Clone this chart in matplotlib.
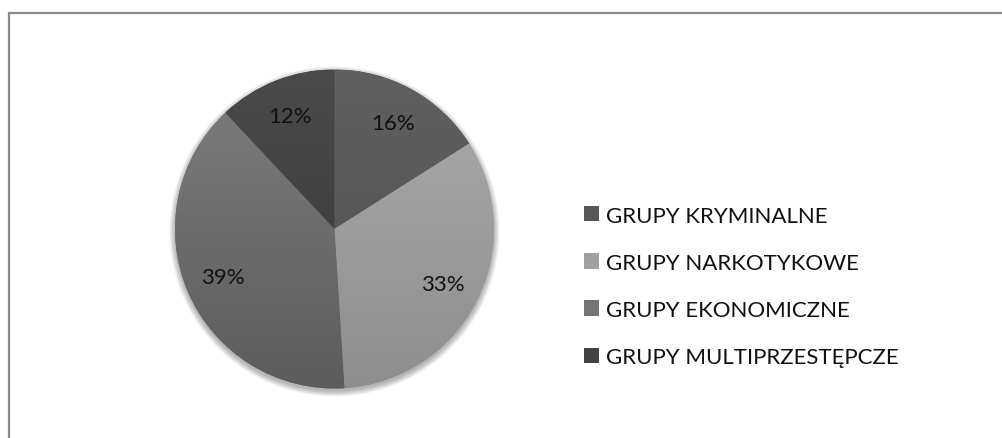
import numpy as np
import matplotlib
matplotlib.use("Agg")
import matplotlib.pyplot as plt
from matplotlib.patches import Rectangle, Circle, Patch
from matplotlib.colors import LinearSegmentedColormap

# ---- data ----
categories = ["GRUPY KRYMINALNE", "GRUPY NARKOTYKOWE",
              "GRUPY EKONOMICZNE", "GRUPY MULTIPRZESTĘPCZE"]
values = [16, 33, 39, 12]
pct_labels = ["16%", "33%", "39%", "12%"]

# gradient colours (top, bottom) per slice, and solid legend colours
grad_top = ["#606060", "#ababab", "#7e7e7e", "#4a4a4a"]
grad_bot = ["#4e4e4e", "#8e8e8e", "#5c5c5c", "#383838"]
legend_colors = ["#575757", "#a0a0a0", "#757575", "#424242"]

plt.rcParams['font.family'] = ['Lato', 'DejaVu Sans']

W, H = 1003, 439
fig = plt.figure(figsize=(W / 100, H / 100), dpi=100)
fig.patch.set_facecolor("white")

# outer frame (only left and top edges visible in the crop)
fig.add_artist(Rectangle((9.5 / W, -0.2), 1.5, (H - 14) / H + 0.2,
                         transform=fig.transFigure, fill=False,
                         ec="#8a8a8a", lw=1.6))

# pie axes
cx, cy, R = 334.5, H - 230, 159.5
lim = 1.2
half = R * lim
ax = fig.add_axes([(cx - half) / W, (cy - half) / H, 2 * half / W, 2 * half / H])
ax.set_xlim(-lim, lim)
ax.set_ylim(-lim, lim)
ax.axis("off")

# soft shadow
px = 1.0 / R
for k in range(9):
    ax.add_patch(Circle((0, -2.5 * px), 1 + k * 0.7 * px, color="black",
                        alpha=0.035, lw=0, zorder=0))

wedges, texts, autotexts = ax.pie(
    values, startangle=90, counterclock=False, radius=1,
    colors=legend_colors, labels=None,
    autopct=lambda p: "", pctdistance=0.76,
    wedgeprops=dict(linewidth=0), frame=False)
ax.set_xlim(-lim, lim)
ax.set_ylim(-lim, lim)
ax.set_aspect("equal")

grad = np.linspace(0, 1, 256).reshape(-1, 1)
for w, ct, cb in zip(wedges, grad_top, grad_bot):
    cmap = LinearSegmentedColormap.from_list("g", [ct, cb])
    im = ax.imshow(grad, cmap=cmap, extent=[-1, 1, -1, 1], origin="upper",
                   aspect="auto", zorder=2, interpolation="bilinear")
    im.set_clip_path(w)

for t, lab in zip(autotexts, pct_labels):
    t.set_text(lab)
    t.set_fontsize(16)
    t.set_color("#111111")
    t.set_zorder(5)

handles = [Patch(facecolor=c, edgecolor="none") for c in legend_colors]
fig.legend(handles, categories, loc="center left",
           bbox_to_anchor=(584 / W, (H - 287.3) / H),
           frameon=False, fontsize=16, handlelength=0.68, handleheight=0.68,
           handletextpad=0.33, labelspacing=1.22, borderpad=0, borderaxespad=0,
           labelcolor="#111111")

fig.savefig("out.png", dpi=100, facecolor="white")
